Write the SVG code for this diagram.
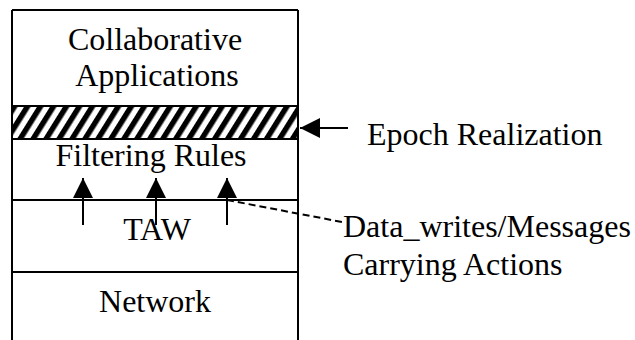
<svg xmlns="http://www.w3.org/2000/svg" width="635" height="340" viewBox="0 0 635 340">
  <defs>
    <style>
      text { font-family: 'Liberation Serif', 'Times New Roman', Times, serif; font-size: 32px; fill: #000; }
      .mid { text-anchor: middle; }
      .edge { stroke: #000; stroke-width: 2; fill: none; }
      .dash { stroke: #000; stroke-width: 2; fill: none; stroke-dasharray: 7 4; }
    </style>
    <pattern id="hatch" patternUnits="userSpaceOnUse" width="11" height="11" patternTransform="rotate(32)">
      <rect x="0" y="0" width="5.5" height="11" fill="#000"/>
    </pattern>
    <marker id="head" viewBox="0 0 20 20" refX="20" refY="10" markerWidth="20" markerHeight="20" markerUnits="userSpaceOnUse" orient="auto">
      <path d="M0,0 L20,10 L0,20 Z" fill="#000"/>
    </marker>
  </defs>

  <rect width="635" height="340" fill="#fff"/>

  <!-- layer stack outline -->
  <g id="stack">
    <line class="edge" x1="12" y1="10" x2="12" y2="340"/>
    <line class="edge" x1="298" y1="10" x2="298" y2="340"/>
    <line class="edge" x1="12" y1="10" x2="298" y2="10"/>
  </g>

  <g id="applications">
    <text class="mid" x="155" y="50">Collaborative</text>
    <text class="mid" x="157" y="86">Applications</text>
  </g>

  <g id="epoch-band">
    <rect x="12" y="106" width="286" height="33" fill="url(#hatch)"/>
    <line class="edge" x1="12" y1="106" x2="298" y2="106"/>
    <line class="edge" x1="12" y1="139" x2="298" y2="139"/>
  </g>

  <g id="filtering">
    <text class="mid" x="151" y="166">Filtering Rules</text>
  </g>

  <g id="taw">
    <line class="edge" x1="12" y1="200" x2="298" y2="200"/>
    <text class="mid" x="157" y="240">TAW</text>
  </g>

  <g id="network">
    <line class="edge" x1="12" y1="272" x2="298" y2="272"/>
    <text class="mid" x="155" y="312">Network</text>
  </g>

  <g id="epoch-label">
    <text x="367" y="145">Epoch Realization</text>
  </g>

  <g id="actions-label">
    <text x="343" y="237">Data_writes/Messages</text>
    <text x="343" y="275">Carrying Actions</text>
  </g>

  <!-- connectors -->
  <g id="connectors">
    <line class="edge" x1="348" y1="128" x2="300" y2="128" marker-end="url(#head)"/>
    <line class="edge" x1="83" y1="225" x2="83" y2="178" marker-end="url(#head)"/>
    <line class="edge" x1="156" y1="225" x2="156" y2="178" marker-end="url(#head)"/>
    <line class="edge" x1="227" y1="225" x2="227" y2="178" marker-end="url(#head)"/>
    <line class="dash" x1="227" y1="200" x2="342" y2="222"/>
  </g>
</svg>
